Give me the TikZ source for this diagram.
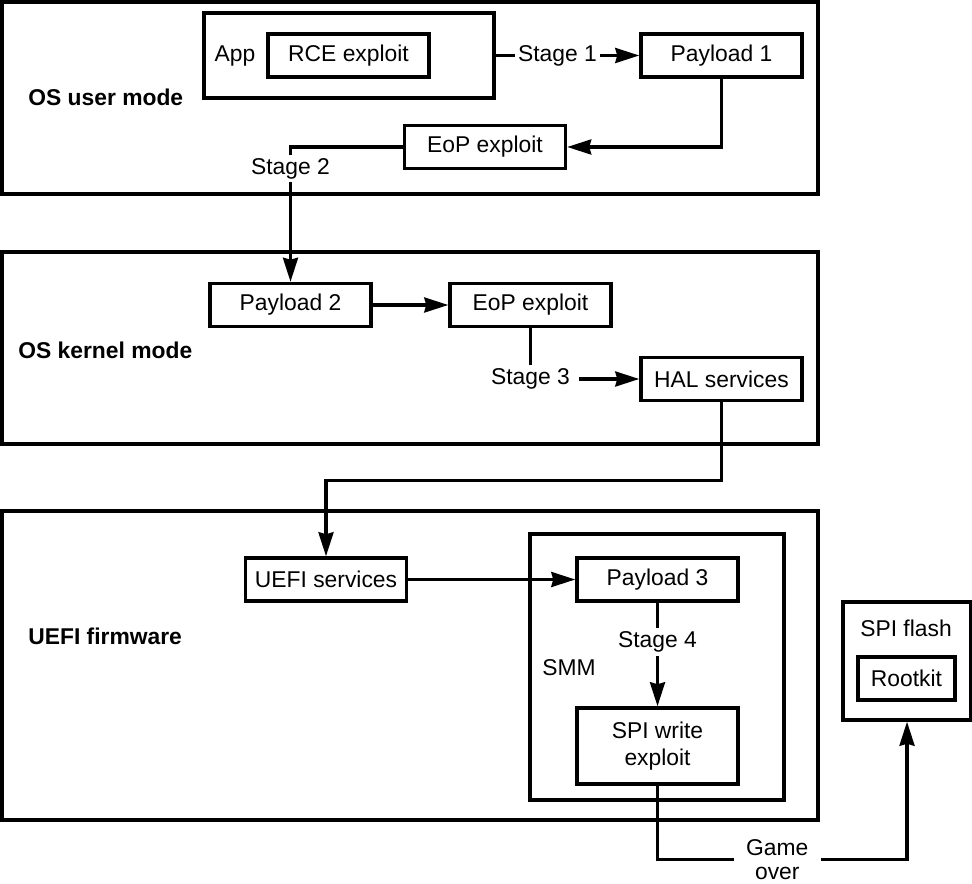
\documentclass[tikz,border=0pt]{standalone}
\usepackage{fontspec}
\setmainfont{Liberation Sans}
\usetikzlibrary{arrows.meta,positioning}
\tikzstyle{layer} = [rectangle, draw=black, line width=2pt, minimum width=16.32cm, minimum height=3.84cm]
\tikzstyle{box} = [rectangle, draw=black, line width=2pt, minimum width=3.22cm, minimum height=0.86cm, text centered, fill=white]
\tikzstyle{modelabel} = [anchor=west, inner sep=0pt, font=\fontsize{13}{15}\selectfont\bfseries]
\tikzstyle{tag} = [fill=white, inner sep=2pt]
\tikzstyle{arrow} = [line width=1.8pt, -{Stealth[length=0.48cm, width=0.3cm, inset=0.04cm]}]

\begin{document}
\begin{tikzpicture}[x=0.02cm, y=-0.02cm, font=\fontsize{13}{15}\selectfont]
    \useasboundingbox (0,0) rectangle (972,884);
    % Layers
    \node (user) [layer] at (410,98) {};
    \node (kernel) [layer] at (410,348) {};
    \node (uefi) [layer, minimum height=6.18cm] at (410,665.5) {};
    \node (usertxt) [modelabel] at (28,97) {OS user mode};
    \node (kerneltxt) [modelabel] at (18,350) {OS kernel mode};
    \node (uefitxt) [modelabel] at (28,636) {UEFI firmware};

    % OS user mode
    \node (app) [box, minimum width=5.8cm, minimum height=1.7cm] at (349,55.5) {};
    \node (apptxt) at (235,56) {App};
    \node (rce) [box] at (348.5,55.5) {RCE exploit};
    \node (pay1) [box] at (721.5,55.5) {Payload 1};
    \node (eopuser) [box] at (485,147) {EoP exploit};

    % OS kernel mode
    \node (pay2) [box] at (290.5,305) {Payload 2};
    \node (eopkernel) [box] at (530.5,305) {EoP exploit};
    \node (hal) [box] at (721.5,379) {HAL services};

    % UEFI firmware
    \node (smm) [box, minimum width=5.08cm, minimum height=5.32cm] at (657,667) {};
    \node (smmtxt) at (569,668) {SMM};
    \node (uefisvc) [box] at (326,579.5) {UEFI services};
    \node (pay3) [box] at (657.5,579.5) {Payload 3};
    \node (spiwrite) [box, minimum height=1.52cm, align=center] at (657.5,746) {SPI write\\exploit};

    % SPI flash
    \node (flash) [box, minimum width=2.56cm, minimum height=2.36cm] at (907,661) {};
    \node (flashtxt) at (906,628) {SPI flash};
    \node (rootkit) [box, minimum width=1.94cm] at (906.5,678.5) {Rootkit};

    % Arrows
    \draw [arrow] (app) -- node[tag, pos=0.43] {Stage 1} (pay1);
    \draw [arrow] (pay1) |- (eopuser);
    \draw [arrow] (eopuser) -| node[tag, pos=0.58] {Stage 2} (pay2);
    \draw [arrow] (pay2) -- (eopkernel);
    \draw [arrow] (eopkernel) |- node[tag, inner xsep=5pt] {Stage 3} (hal);
    \draw [arrow] (hal.south) -- ++(0,78) -| (uefisvc);
    \draw [arrow] (uefisvc) -- (pay3);
    \draw [arrow] (pay3) -- node[tag, pos=0.38] {Stage 4} (spiwrite);
    \draw [arrow] (spiwrite.south) -- ++(0,74) -| node[tag, pos=0.24, align=center, inner sep=1pt, inner xsep=7pt, font=\fontsize{13}{14}\selectfont] {Game\\over} (flash);

\end{tikzpicture}
\end{document}
